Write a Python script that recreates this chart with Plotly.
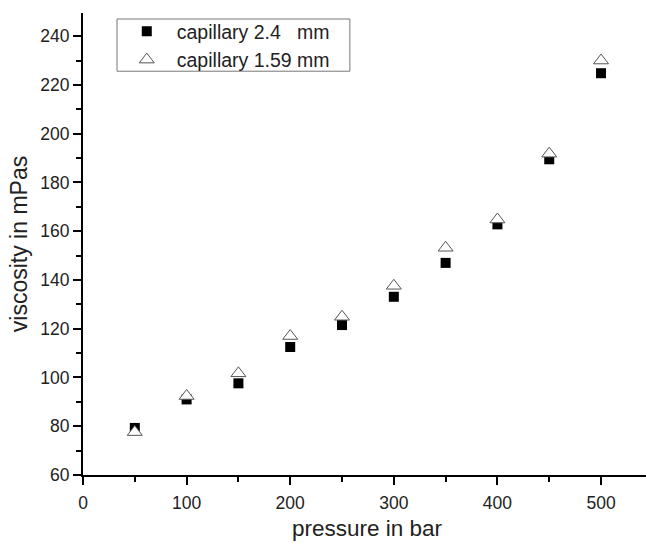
import plotly.graph_objects as go

pressure = [50, 100, 150, 200, 250, 300, 350, 400, 450, 500]
visc_24 = [79.3, 91.0, 97.6, 112.5, 121.5, 133.1, 147.0, 162.8, 189.5, 224.8]
visc_159 = [77.6, 92.4, 101.7, 117.0, 124.9, 137.6, 153.2, 164.8, 191.8, 230.0]

fig = go.Figure()
fig.add_trace(go.Scatter(
    x=pressure, y=visc_24, mode="markers", name="capillary 2.4   mm",
    marker=dict(symbol="square", size=10, color="black", line=dict(width=0)),
))
fig.add_trace(go.Scatter(
    x=pressure, y=visc_159, mode="markers", name="capillary 1.59 mm",
    marker=dict(symbol="triangle-up", size=13, color="white",
                line=dict(width=1, color="#555555")),
))

font_family = "Liberation Sans, Arial, sans-serif"
txt = "#222222"
fig.update_layout(
    width=646, height=543,
    margin=dict(l=83, r=0, t=13, b=68),
    paper_bgcolor="white", plot_bgcolor="white",
    font=dict(family=font_family, color=txt),
    showlegend=True,
    legend=dict(
        x=0.06, y=1.002, xanchor="left", yanchor="top",
        borderwidth=0, bgcolor="rgba(0,0,0,0)",
        font=dict(size=19.5, family=font_family, color=txt),
        itemwidth=50, tracegroupgap=0,
    ),
    shapes=[dict(type="rect", xref="paper", yref="paper",
                 x0=0.0604, x1=0.474, y0=0.874, y1=0.987,
                 line=dict(color="#777777", width=1), fillcolor="rgba(0,0,0,0)",
                 layer="below")],
    annotations=[dict(text="pressure in bar", xref="paper", yref="paper",
                      x=0.506, y=-0.116, xanchor="center", yanchor="middle",
                      showarrow=False, borderpad=0,
                      font=dict(size=22.5, family=font_family, color=txt))],
    xaxis=dict(
        range=[0, 543.4], showgrid=False, zeroline=False, automargin=False,
        showline=True, linecolor="black", linewidth=2,
        ticks="outside", ticklen=8, tickwidth=1.5, tickcolor="black",
        tickvals=[0, 100, 200, 300, 400, 500], ticklabelstandoff=3,
        tickfont=dict(size=17.5, family=font_family, color=txt),
        minor=dict(ticks="outside", ticklen=5, tickwidth=1.5, tickcolor="black", dtick=50),
    ),
    yaxis=dict(
        range=[60, 249.5], showgrid=False, zeroline=False, automargin=False,
        showline=True, linecolor="black", linewidth=2,
        ticks="outside", ticklen=8, tickwidth=1.5, tickcolor="black",
        tickvals=list(range(60, 241, 20)),
        tickfont=dict(size=17.5, family=font_family, color=txt),
        minor=dict(ticks="outside", ticklen=5, tickwidth=1.5, tickcolor="black", dtick=10),
        title=dict(text="viscosity in mPas", font=dict(size=23, family=font_family, color=txt), standoff=6),
    ),
)

fig.write_html("out.html")
